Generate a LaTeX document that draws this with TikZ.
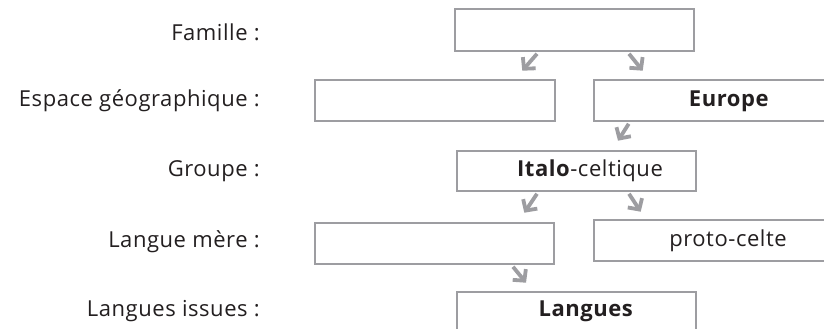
\documentclass[tikz,border=0pt]{standalone}
\usepackage{fontspec}
\setmainfont{Open Sans}[LetterSpace=2.5]
\usetikzlibrary{arrows.meta,calc}
\definecolor{boxgray}{HTML}{9D9DA1}
\definecolor{ink}{HTML}{231F20}
\begin{document}
\begin{tikzpicture}[x=1pt,y=-1pt,
  box/.style={draw=boxgray,line width=2.6pt,rectangle,inner sep=0pt},
  lab/.style={anchor=east,text=ink,font=\fontsize{22}{26}\selectfont,inner sep=0pt},
  txt/.style={text=ink,font=\fontsize{22}{26}\selectfont,inner sep=0pt},
  arr/.style={draw=boxgray,line width=3.8pt,-{Straight Barb[length=8pt,width=17pt]}}]
\clip (0,0) rectangle (824,329);
\fill[white] (0,0) rectangle (824,329);
% boxes
\node[box,minimum width=239pt,minimum height=42pt] (fam) at (574.5,30) {};
\node[box,minimum width=240pt,minimum height=41pt] (espL) at (435,100.5) {};
\node[box,minimum width=260pt,minimum height=41pt] (eur) at (724,100.5) {};
\node[box,minimum width=239pt,minimum height=40pt] (ital) at (576.5,171) {};
\node[box,minimum width=239pt,minimum height=41pt] (merL) at (434.5,243.5) {};
\node[box,minimum width=260pt,minimum height=41pt] (proto) at (724,240.5) {};
\node[box,minimum width=239pt,minimum height=68pt] (lang) at (576.5,326) {};
% texts in boxes
\node[txt] (teur) at (729,101) {\textbf{Europe}};
\node[txt] (tital) at (590,171) {\textbf{Italo}-celtique};
\node[txt] (tproto) at (728,241) {proto-celte};
\node[txt] (tlang) at (586,311) {\textbf{Langues}};
% labels
\node[lab] (l1) at (260,32) {Famille :};
\node[lab] (l2) at (260,101) {Espace géographique :};
\node[lab] (l3) at (260,171) {Groupe :};
\node[lab] (l4) at (260,242) {Langue mère :};
\node[lab] (l5) at (260,311) {Langues issues :};
% arrows
\draw[arr] ($(fam.south)+(-37.5,1.5)$) -- ($(espL.north east)+(-34,-8)$);
\draw[arr] ($(fam.south)+(54.5,1.5)$) -- ($(eur.north west)+(50,-8)$);
\draw[arr] ($(eur.south west)+(36,1.5)$) -- ($(ital.north)+(41.5,-9)$);
\draw[arr] ($(ital.south)+(-39.5,1.5)$) -- ($(merL.north east)+(-31,-9)$);
\draw[arr] ($(ital.south)+(52.5,1.5)$) -- ($(proto.north west)+(48,-7)$);
\draw[arr] ($(merL.south)+(78.5,1.5)$) -- ($(lang.north)+(-50.5,-8)$);
\end{tikzpicture}
\end{document}
